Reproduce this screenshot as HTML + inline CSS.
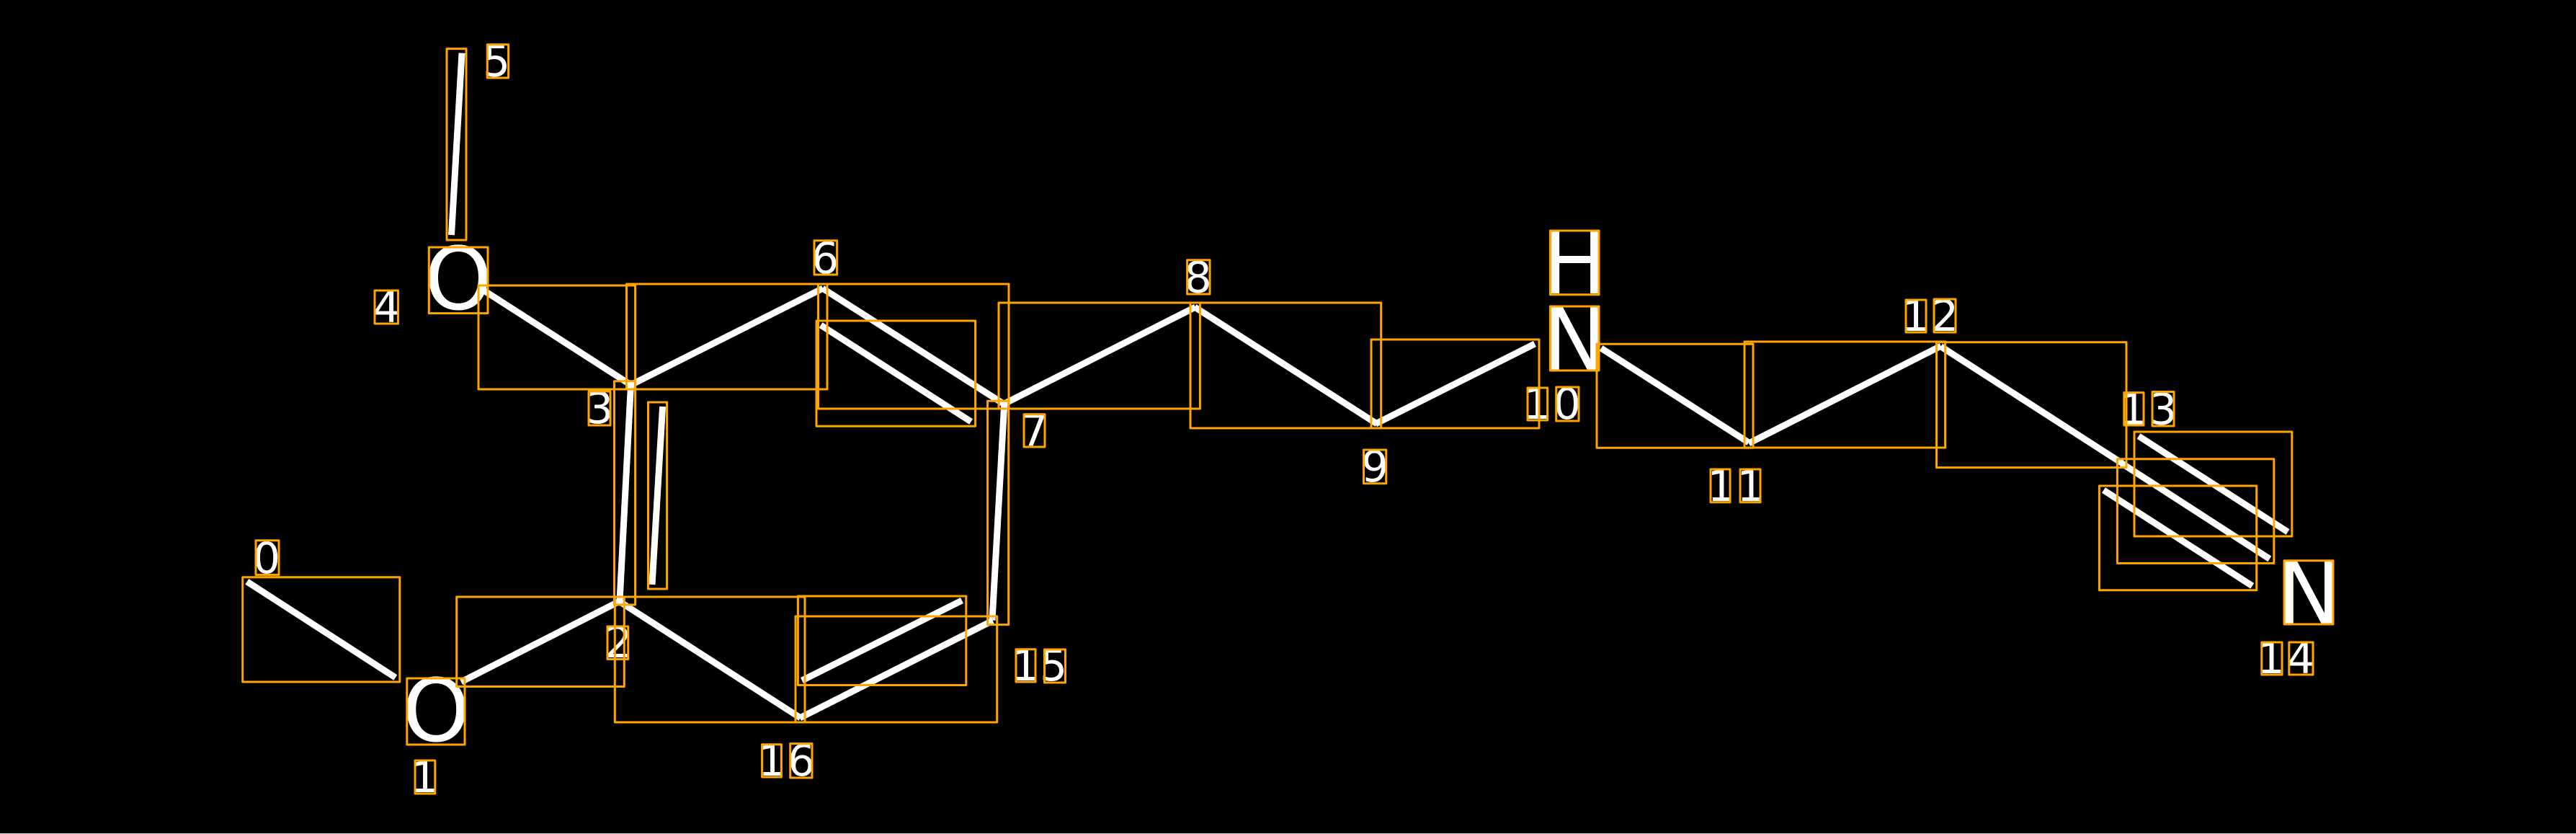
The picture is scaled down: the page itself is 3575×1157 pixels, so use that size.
<!DOCTYPE html>
<html><head><meta charset="utf-8"><style>
html,body{margin:0;padding:0;background:#000;width:3575px;height:1157px;overflow:hidden}
svg{display:block}
text{font-family:"DejaVu Sans",sans-serif;fill:#fff}
.d{font-size:60px}.a{font-size:120px}
#b line{stroke:#fff;stroke-width:9}
#r rect{fill:none;stroke:#ffa500;stroke-width:3;stroke-linejoin:round}
</style></head><body>
<svg width="3575" height="1157" viewBox="0 0 3575 1157" xmlns="http://www.w3.org/2000/svg">
<rect width="3575" height="1157" fill="#000"/>
<rect y="1156" width="3575" height="1" fill="#ddd"/>
<g id="b">
<line x1="342.7" y1="806.8" x2="548.8" y2="940"/>
<line x1="640" y1="946" x2="860" y2="834"/>
<line x1="860" y1="834" x2="875.5" y2="534"/>
<line x1="905" y1="811" x2="919.6" y2="564"/>
<line x1="875.6" y1="534" x2="670" y2="402"/>
<line x1="626.5" y1="326" x2="641" y2="73.6"/>
<line x1="875.5" y1="534" x2="1142" y2="400"/>
<line x1="1141.5" y1="400" x2="1394" y2="561"/>
<line x1="1139" y1="451" x2="1347.6" y2="585"/>
<line x1="1392" y1="561" x2="1659" y2="426"/>
<line x1="1658" y1="426" x2="1911" y2="588"/>
<line x1="1909" y1="588" x2="2130" y2="477"/>
<line x1="2222" y1="483" x2="2427" y2="614"/>
<line x1="2427" y1="615" x2="2693.6" y2="480"/>
<line x1="2693.5" y1="480.7" x2="2945" y2="642.6"/>
<line x1="2968" y1="605" x2="3175" y2="738"/>
<line x1="2944.4" y1="642.7" x2="3149.8" y2="775.4"/>
<line x1="2919.4" y1="680" x2="3125.7" y2="812.8"/>
<line x1="1393.7" y1="562" x2="1377" y2="860.6"/>
<line x1="1377.7" y1="861" x2="1110" y2="996"/>
<line x1="1335" y1="833" x2="1113" y2="944"/>
<line x1="1111" y1="996" x2="859" y2="834"/>
</g>
<g>
<text class="a" x="588.7" y="429">O</text>
<text class="a" x="558" y="1028">O</text>
<text class="a" x="2140.5" y="407">H</text>
<text class="a" x="2140.5" y="512.5">N</text>
<text class="a" x="3159.5" y="865">N</text>
<text class="d" x="351" y="795">0</text>
<text class="d" x="570" y="1099">1</text>
<text class="d" x="839" y="912">2</text>
<text class="d" x="813" y="587">3</text>
<text class="d" x="517.5" y="447">4</text>
<text class="d" x="670" y="105.5">5</text>
<text class="d" x="1126" y="379">6</text>
<text class="d" x="1416.5" y="618">7</text>
<text class="d" x="1643.5" y="405.5">8</text>
<text class="d" x="1889" y="668">9</text>
<text class="d" x="2114 2155.7" y="581">10</text>
<text class="d" x="2369.4 2410.4" y="695">11</text>
<text class="d" x="2639 2680" y="459">12</text>
<text class="d" x="2941.5 2983" y="588.5">13</text>
<text class="d" x="3132.5 3174" y="934">14</text>
<text class="d" x="1404 1443" y="944">15</text>
<text class="d" x="1052 1093" y="1076">16</text>
</g>
<g id="r">
<rect x="620" y="67.6" width="27" height="265.4"/>
<rect x="676.3" y="61.7" width="29.3" height="46.3"/>
<rect x="595.3" y="343" width="81.7" height="91.6"/>
<rect x="520" y="403" width="32.5" height="46"/>
<rect x="1130" y="333.7" width="31.6" height="47.3"/>
<rect x="664" y="396" width="217.6" height="144"/>
<rect x="869.5" y="394" width="278.5" height="146"/>
<rect x="1135.5" y="394" width="264.5" height="173"/>
<rect x="1133" y="445" width="220.6" height="146.3"/>
<rect x="1386" y="420" width="279.4" height="147"/>
<rect x="1652" y="420" width="264.7" height="174"/>
<rect x="1903" y="471" width="233" height="123"/>
<rect x="852.5" y="528.7" width="29.1" height="310.3"/>
<rect x="817" y="543" width="30" height="47"/>
<rect x="899.5" y="558" width="26.1" height="259"/>
<rect x="2151.4" y="320" width="67.6" height="88.7"/>
<rect x="2151.4" y="425" width="67.6" height="89"/>
<rect x="1421" y="574.7" width="29" height="45.3"/>
<rect x="1647.6" y="360.7" width="31.4" height="47.3"/>
<rect x="1892.5" y="624" width="31.2" height="46.7"/>
<rect x="2120" y="538" width="27.6" height="45"/>
<rect x="2159.7" y="537" width="31.3" height="47"/>
<rect x="2216" y="477.3" width="217" height="144"/>
<rect x="2421" y="474" width="278.6" height="147"/>
<rect x="2687.5" y="474.7" width="263.5" height="173.9"/>
<rect x="2645" y="416" width="28" height="45"/>
<rect x="2684" y="415" width="30" height="46"/>
<rect x="2947.8" y="544.6" width="27.2" height="45.4"/>
<rect x="2987" y="543.5" width="30" height="47.5"/>
<rect x="2962" y="599" width="218.8" height="145"/>
<rect x="2938.4" y="636.7" width="217.4" height="144.7"/>
<rect x="2913.4" y="674" width="218.3" height="144.8"/>
<rect x="3170" y="777.7" width="68" height="88.3"/>
<rect x="3138.8" y="891" width="28.2" height="45"/>
<rect x="3176.8" y="891" width="33.2" height="45"/>
<rect x="2374" y="651" width="27" height="45.7"/>
<rect x="2415" y="651" width="28" height="45.7"/>
<rect x="355" y="749.8" width="32" height="47.6"/>
<rect x="336.7" y="800.8" width="218.1" height="145.2"/>
<rect x="564.8" y="941" width="80.2" height="92"/>
<rect x="576" y="1055" width="27.8" height="46"/>
<rect x="633.7" y="828" width="232.6" height="124.5"/>
<rect x="853.3" y="828" width="263.7" height="174"/>
<rect x="843" y="869" width="28.7" height="45.5"/>
<rect x="1104" y="855" width="279.7" height="147"/>
<rect x="1107.4" y="827" width="233.4" height="123.5"/>
<rect x="1370.6" y="556.3" width="29.1" height="310.3"/>
<rect x="1410" y="900.8" width="27" height="45.2"/>
<rect x="1449.5" y="901" width="29" height="46"/>
<rect x="1057.6" y="1032.7" width="26.8" height="45.3"/>
<rect x="1096.7" y="1031.6" width="30.3" height="47.4"/>
</g>
</svg>
</body></html>
